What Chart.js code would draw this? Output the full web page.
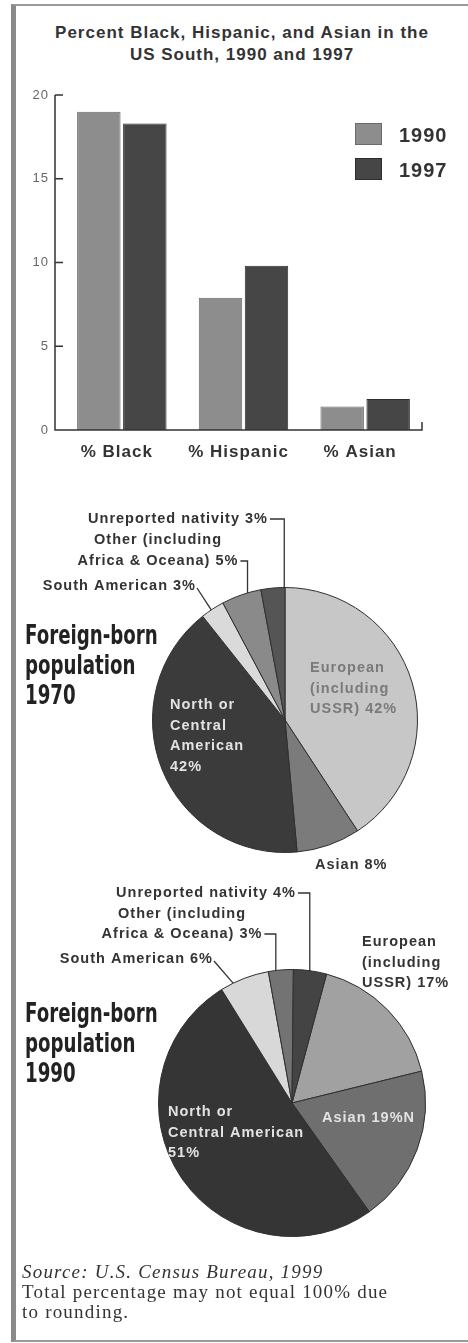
<!DOCTYPE html>
<html>
<head>
<meta charset="utf-8">
<script src="https://cdn.jsdelivr.net/npm/chart.js@4.4.1/dist/chart.umd.min.js"></script>
<style>
  html, body { margin: 0; padding: 0; background: #fff; }
  body { width: 468px; height: 1343px; position: relative; overflow: hidden; font-family: "Liberation Sans", Arial, sans-serif; }
  .frame { position: absolute; left: 11px; top: 4px; width: 470px; height: 1334px;
           border-left: 5px solid #8a8a8a; border-top: 2px solid #999; border-bottom: 2px solid #999; }
  .title { position: absolute; left: 18px; width: 448px; top: 22px; text-align: center;
           font-weight: bold; font-size: 17px; line-height: 22px; color: #333; letter-spacing: 1px; }
  .heading { position: absolute; left: 25px; font-family: "Liberation Sans Narrow", "DejaVu Sans Condensed", sans-serif;
             font-weight: bold; font-size: 27px; line-height: 30px; color: #222;
             transform: scaleX(0.75); transform-origin: left top; }
  .source { position: absolute; left: 22px; top: 1262px; font-family: "Liberation Serif", "Times New Roman", serif;
            font-size: 19px; line-height: 20px; color: #333; letter-spacing: 1.2px; }
  .source i { font-style: italic; }
  canvas { position: absolute; left: 0; }
</style>
</head>
<body>
<div class="frame"></div>
<div class="title">Percent Black, Hispanic, and Asian in the<br>US South, 1990 and 1997</div>
<div style="position:absolute;left:0;top:0;width:468px;height:480px"><canvas id="bar-chart"></canvas></div>
<div style="position:absolute;left:0;top:490px;width:468px;height:400px"><canvas id="pie-1970"></canvas></div>
<div style="position:absolute;left:0;top:870px;width:468px;height:400px"><canvas id="pie-1990"></canvas></div>
<div class="heading" style="top:620px">Foreign-born<br>population<br>1970</div>
<div class="heading" style="top:998px">Foreign-born<br>population<br>1990</div>
<div class="source"><i>Source: U.S. Census Bureau, 1999</i><br>Total percentage may not equal 100% due<br>to rounding.</div>

<script>
// bar chart data
const barCategories = ["% Black", "% Hispanic", "% Asian"];
const barSeriesNames = ["1990", "1997"];
const values1990 = [19.0, 7.9, 1.4];
const values1997 = [18.3, 9.8, 1.85];
const yTickValues = [0, 5, 10, 15, 20];

// pie chart data (same slice order in both years, clockwise)
const pieCategories = [
    "European (including USSR)",
    "Asian",
    "North or Central American",
    "South American",
    "Other (including Africa & Oceana)",
    "Unreported nativity",
];
const share1970 = [42, 8, 42, 3, 5, 3];
const share1990 = [17, 19, 51, 6, 3, 4];

const sansFont = "'Liberation Sans', Arial, sans-serif";

// the scan is a bit wide, so letters get some extra spacing
const wideText = {
    id: "wideText",
    beforeDraw(chart) {
        chart.ctx.letterSpacing = "1px";
    },
};

// draws axis lines with inward ticks and the legend box
const barDecor = {
    id: "barDecor",
    afterDraw(chart) {
        const ctx = chart.ctx;
        const area = chart.chartArea;
        const y = chart.scales.y;
        const ax = area.left - 6;
        ctx.save();
        ctx.strokeStyle = "#333";
        ctx.lineWidth = 1.5;
        ctx.beginPath();
        ctx.moveTo(ax, y.getPixelForValue(y.max));
        ctx.lineTo(ax, area.bottom);
        ctx.lineTo(area.right - 4, area.bottom);
        ctx.lineTo(area.right - 4, area.bottom - 8);
        y.ticks.forEach((t) => {
            if (t.value === 0) return;
            const py = y.getPixelForValue(t.value);
            ctx.moveTo(ax, py);
            ctx.lineTo(ax + 8, py);
        });
        ctx.stroke();

        // legend
        chart.data.datasets.forEach((ds, i) => {
            const top = 123 + i * 35;
            ctx.fillStyle = ds.backgroundColor;
            ctx.fillRect(355, top, 27, 22);
            ctx.strokeStyle = ds.borderColor;
            ctx.lineWidth = 1;
            ctx.strokeRect(355.5, top + 0.5, 26, 21);
            ctx.fillStyle = "#333";
            ctx.font = "bold 20px " + sansFont;
            ctx.textBaseline = "middle";
            ctx.fillText(ds.label, 399, top + 13);
        });
        ctx.restore();
    },
};

new Chart(document.getElementById("bar-chart"), {
    type: "bar",
    data: {
        labels: barCategories,
        datasets: [
            {
                label: barSeriesNames[0],
                data: values1990,
                backgroundColor: "#8d8d8d",
                borderColor: "#6a6a6a",
                borderWidth: 1,
                barPercentage: 0.945,
                categoryPercentage: 0.756,
            },
            {
                label: barSeriesNames[1],
                data: values1997,
                backgroundColor: "#464646",
                borderColor: "#2e2e2e",
                borderWidth: 1,
                barPercentage: 0.945,
                categoryPercentage: 0.756,
            },
        ],
    },
    options: {
        responsive: true,
        maintainAspectRatio: false,
        animation: false,
        layout: { padding: { left: 32, right: 42, top: 95, bottom: 20 } },
        scales: {
            x: {
                grid: { display: false, drawTicks: false },
                border: { display: false },
                ticks: {
                    color: "#333",
                    padding: 12,
                    labelOffset: -5,
                    font: { family: sansFont, size: 17, weight: "bold" },
                },
                afterFit: (s) => { s.height = 30; },
            },
            y: {
                min: 0,
                max: 20,
                afterBuildTicks: (s) => { s.ticks = yTickValues.map((v) => ({ value: v })); },
                grid: { display: false, drawTicks: false },
                border: { display: false },
                ticks: {
                    color: "#666",
                    padding: 12,
                    font: { family: sansFont, size: 13 },
                },
                afterFit: (s) => { s.width = 29; },
            },
        },
        plugins: {
            legend: { display: false },
            tooltip: { enabled: false },
        },
    },
    plugins: [wideText, barDecor],
});

// slice labels and leader lines for the pies
const sliceLabels = {
    id: "sliceLabels",
    afterDraw(chart, args, opts) {
        const ctx = chart.ctx;
        const meta = chart.getDatasetMeta(0);
        const values = chart.data.datasets[0].data;
        ctx.save();
        ctx.font = "bold 14.5px " + sansFont;
        ctx.letterSpacing = "1px";
        ctx.textBaseline = "middle";
        opts.items.forEach((item) => {
            const arc = meta.data[item.index];
            const cx = arc.x;
            const cy = arc.y;
            const lines = item.lines(values[item.index]);
            const x = cx + item.dx;
            ctx.fillStyle = item.color || "#333";
            ctx.textAlign = item.align || "left";
            lines.forEach((ln, k) => ctx.fillText(ln, x, cy + item.dy + k * item.lh));
            if (!item.leader) return;
            const a = arc.startAngle + (arc.endAngle - arc.startAngle) * item.at;
            const r = arc.outerRadius;
            const px = cx + r * Math.cos(a);
            const py = cy + r * Math.sin(a);
            const last = lines.length - 1;
            const ly = cy + item.dy + last * item.lh;
            const w = ctx.measureText(lines[last]).width;
            let ex = x;
            if (item.align === "center") ex = x + w / 2;
            if (!item.align || item.align === "left") ex = x + w;
            ctx.strokeStyle = "#333";
            ctx.lineWidth = 1.3;
            ctx.beginPath();
            if (item.leader === "elbow") {
                ctx.moveTo(ex + 2, ly);
                ctx.lineTo(px, ly);
                ctx.lineTo(px, py);
            } else {
                ctx.moveTo(ex + 1, ly + 2);
                ctx.lineTo(px, py);
            }
            ctx.stroke();
        });
        ctx.restore();
    },
};

function makePie(id, shares, colors, rotation, padding, items) {
    new Chart(document.getElementById(id), {
        type: "pie",
        data: {
            labels: pieCategories,
            datasets: [
                {
                    data: shares,
                    backgroundColor: colors,
                    borderColor: "#2f2f2f",
                    borderWidth: 1,
                },
            ],
        },
        options: {
            responsive: true,
            maintainAspectRatio: false,
            animation: false,
            rotation: rotation,
            layout: { padding: padding },
            plugins: {
                legend: { display: false },
                tooltip: { enabled: false },
                sliceLabels: { items: items },
            },
        },
        plugins: [sliceLabels],
    });
}

makePie(
    "pie-1970",
    share1970,
    ["#c7c7c7", "#7b7b7b", "#3b3b3b", "#dadada", "#8a8a8a", "#555555"],
    0,
    { left: 152, right: 50, top: 97, bottom: 37 },
    [
        { index: 0, dx: 25, dy: -52, lh: 20.5, color: "#7a7a7a",
          lines: (v) => ["European", "(including", "USSR) " + v + "%"] },
        { index: 2, dx: -115, dy: -15, lh: 20.5, color: "#e2e2e2",
          lines: (v) => ["North or", "Central", "American", v + "%"] },
        { index: 1, dx: 30, dy: 145, lh: 20, lines: (v) => ["Asian " + v + "%"] },
        { index: 5, dx: -17, dy: -201, lh: 20, align: "right", leader: "elbow", at: 0.97,
          lines: (v) => ["Unreported nativity " + v + "%"] },
        { index: 4, dx: -127, dy: -180, lh: 21, align: "center", leader: "elbow", at: 0.66,
          lines: (v) => ["Other (including", "Africa & Oceana) " + v + "%"] },
        { index: 3, dx: -89, dy: -134, lh: 20, align: "right", leader: "straight", at: 0.44,
          lines: (v) => ["South American " + v + "%"] },
    ]
);

makePie(
    "pie-1990",
    share1990,
    ["#a1a1a1", "#6f6f6f", "#353535", "#d8d8d8", "#737373", "#444444"],
    15,
    { left: 158, right: 42, top: 99, bottom: 33 },
    [
        { index: 0, dx: 70, dy: -161, lh: 20.5,
          lines: (v) => ["European", "(including", "USSR) " + v + "%"] },
        { index: 1, dx: 30, dy: 15, lh: 20, color: "#e2e2e2", lines: (v) => ["Asian " + v + "%N"] },
        { index: 2, dx: -124, dy: 9, lh: 20.5, color: "#e2e2e2",
          lines: (v) => ["North or", "Central American", v + "%"] },
        { index: 5, dx: 4, dy: -210, lh: 20, align: "right", leader: "elbow", at: 0.49,
          lines: (v) => ["Unreported nativity " + v + "%"] },
        { index: 4, dx: -110, dy: -189, lh: 20, align: "center", leader: "elbow", at: 0.3,
          lines: (v) => ["Other (including", "Africa & Oceana) " + v + "%"] },
        { index: 3, dx: -79, dy: -144, lh: 20, align: "right", leader: "straight", at: 0.26,
          lines: (v) => ["South American " + v + "%"] },
    ]
);
</script>
</body>
</html>
